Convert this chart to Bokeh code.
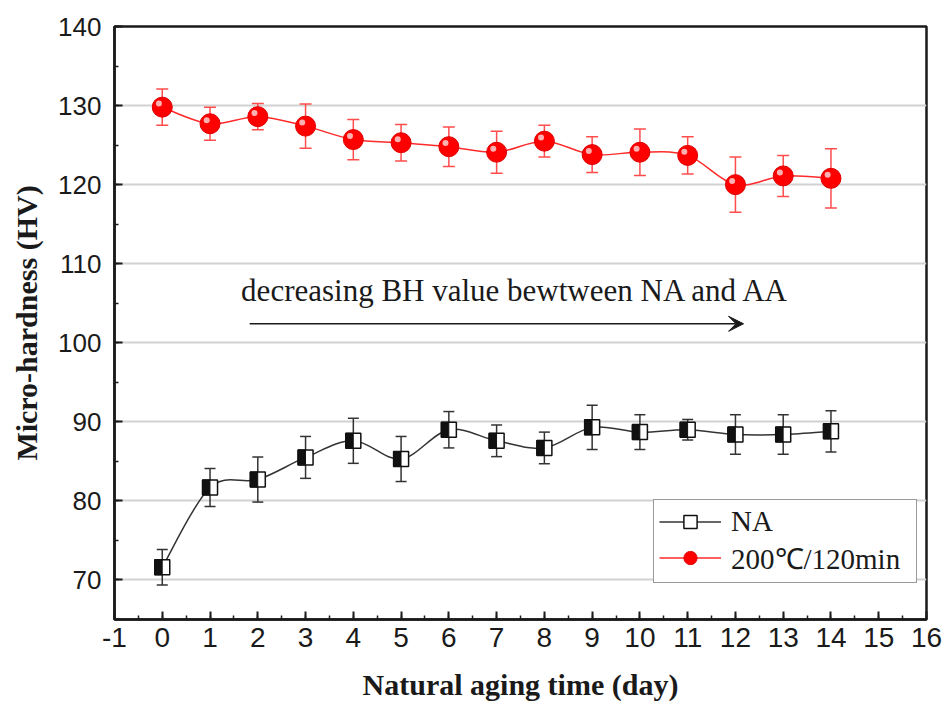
import numpy as np
from bokeh.plotting import figure
from bokeh.models import (ColumnDataSource, Whisker, TeeHead, Arrow, VeeHead, Legend,
                          LegendItem, SingleIntervalTicker, Label, Range1d, PrintfTickFormatter)
from bokeh.transform import dodge
from bokeh.embed import file_html
from bokeh.resources import INLINE

# ---------------- data ----------------
days = list(range(15))
na_hv = [71.6, 81.7, 82.7, 85.5, 87.6, 85.3, 89.0, 87.6, 86.7, 89.3, 88.7, 89.0, 88.4, 88.4, 88.8]
na_err = [2.25, 2.4, 2.85, 2.65, 2.85, 2.85, 2.3, 2.0, 2.0, 2.8, 2.2, 1.3, 2.5, 2.5, 2.6]
aa_hv = [129.8, 127.7, 128.6, 127.4, 125.7, 125.3, 124.8, 124.1, 125.5, 123.8, 124.1, 123.7, 120.0, 121.1, 120.8]
aa_err = [2.3, 2.1, 1.65, 2.8, 2.55, 2.3, 2.5, 2.65, 2.0, 2.25, 2.95, 2.35, 3.5, 2.6, 3.75]
series_labels = ["NA", "200\u2103/120min"]
annotation_text = "decreasing BH value bewtween NA and AA"
x_title = "Natural aging time (day)"
y_title = "Micro-hardness (HV)"

# annotation placement (data units)
ARROW_X0, ARROW_X1, ARROW_Y = 1.83, 12.17, 102.4
TEXT_X, TEXT_Y = 7.4, 106.6


def spline(xs, ys):
    """Catmull-Rom segments as cubic bezier control points (drawing only)."""
    x = np.asarray(xs, float)
    y = np.asarray(ys, float)
    xp = np.concatenate([[x[0]], x, [x[-1]]])
    yp = np.concatenate([[y[0]], y, [y[-1]]])
    return dict(
        x0=x[:-1], y0=y[:-1], x1=x[1:], y1=y[1:],
        cx0=x[:-1] + (xp[2:-1] - xp[:-3]) / 6, cy0=y[:-1] + (yp[2:-1] - yp[:-3]) / 6,
        cx1=x[1:] - (xp[3:] - xp[1:-2]) / 6, cy1=y[1:] - (yp[3:] - yp[1:-2]) / 6,
    )


na_src = ColumnDataSource(dict(x=days, y=na_hv,
                               upper=[v + e for v, e in zip(na_hv, na_err)],
                               lower=[v - e for v, e in zip(na_hv, na_err)]))
aa_src = ColumnDataSource(dict(x=days, y=aa_hv,
                               upper=[v + e for v, e in zip(aa_hv, aa_err)],
                               lower=[v - e for v, e in zip(aa_hv, aa_err)]))

p = figure(width=947, height=709, output_backend="svg", toolbar_location=None,
           x_range=Range1d(-1, 16), y_range=Range1d(65, 140),
           min_border_left=114, min_border_right=21, min_border_top=26, min_border_bottom=90)
p.background_fill_color = "white"
p.border_fill_color = "white"
p.outline_line_color = "#1a1a1a"
p.outline_line_width = 2.5

# grid
p.xgrid.visible = False
p.ygrid.grid_line_color = "#d2d2d2"
p.ygrid.grid_line_width = 2

# axes
p.xaxis.ticker = SingleIntervalTicker(interval=1, num_minor_ticks=2)
p.yaxis.ticker = SingleIntervalTicker(interval=10, num_minor_ticks=2)
p.xaxis.formatter = PrintfTickFormatter(format="%d")
for ax in (p.xaxis[0], p.yaxis[0]):
    ax.axis_line_width = 2.5
    ax.axis_line_color = "#1a1a1a"
    ax.major_tick_in = 8
    ax.major_tick_out = 0
    ax.minor_tick_in = 4
    ax.minor_tick_out = 0
    ax.major_tick_line_width = 2
    ax.minor_tick_line_width = 1.5
    ax.major_tick_line_color = "#1a1a1a"
    ax.minor_tick_line_color = "#1a1a1a"
    ax.major_label_text_color = "#1a1a1a"
    ax.axis_label_text_font = "Liberation Serif"
    ax.axis_label_text_font_style = "bold"
    ax.axis_label_text_font_size = "30px"
    ax.axis_label_text_color = "#1a1a1a"

p.xaxis.axis_label = x_title
p.yaxis.axis_label = y_title
p.xaxis.major_label_text_font = "Liberation Sans"
p.xaxis.major_label_text_font_size = "28px"
p.xaxis.major_label_standoff = 8
p.xaxis.axis_label_standoff = 18
p.yaxis.major_label_text_font = "Liberation Sans"
p.yaxis.major_label_text_font_size = "26px"
p.yaxis.major_label_standoff = 13
p.yaxis.axis_label_standoff = 12

# ---------------- NA series ----------------
na_line = p.bezier(source=ColumnDataSource(spline(days, na_hv)), x0="x0", y0="y0", x1="x1", y1="y1",
                   cx0="cx0", cy0="cy0", cx1="cx1", cy1="cy1", line_color="#333333", line_width=1.5)
p.add_layout(Whisker(source=na_src, base="x", upper="upper", lower="lower",
                     line_color="#333333", line_width=1.5,
                     upper_head=TeeHead(size=11, line_color="#333333", line_width=1.5),
                     lower_head=TeeHead(size=11, line_color="#333333", line_width=1.5)))
na_sq = p.scatter("x", "y", source=na_src, marker="square", size=15,
                  fill_color="white", line_color="#111111", line_width=1.5)
p.rect(x=dodge("x", -0.08, range=p.x_range), y="y", source=na_src, width=7.5, height=15,
       width_units="screen", height_units="screen", fill_color="#111111", line_color="#111111")

# ---------------- 200C/120min series ----------------
aa_line = p.bezier(source=ColumnDataSource(spline(days, aa_hv)), x0="x0", y0="y0", x1="x1", y1="y1",
                   cx0="cx0", cy0="cy0", cx1="cx1", cy1="cy1", line_color="#ff2a2a", line_width=1.5)
p.add_layout(Whisker(source=aa_src, base="x", upper="upper", lower="lower",
                     line_color="#ff4d4d", line_width=1.5,
                     upper_head=TeeHead(size=12, line_color="#ff4d4d", line_width=1.5),
                     lower_head=TeeHead(size=12, line_color="#ff4d4d", line_width=1.5)))
aa_dot = p.scatter("x", "y", source=aa_src, marker="circle", size=20,
                   fill_color="#ff0000", line_color="#e00000", line_width=1)
p.scatter(x=dodge("x", -0.07, range=p.x_range), y=dodge("y", 0.45, range=p.y_range),
          source=aa_src, marker="circle", size=6, fill_color="#ffc4c4",
          line_color=None, fill_alpha=0.9)

# ---------------- annotation ----------------
p.add_layout(Arrow(x_start=ARROW_X0, y_start=ARROW_Y, x_end=ARROW_X1, y_end=ARROW_Y,
                   line_color="#1a1a1a", line_width=1.5,
                   end=VeeHead(size=15, fill_color="#1a1a1a", line_color="#1a1a1a")))
p.add_layout(Label(x=TEXT_X, y=TEXT_Y, text=annotation_text, text_align="center",
                   text_baseline="middle", text_font="Liberation Serif",
                   text_font_size="31px", text_color="#1a1a1a"))

# ---------------- legend ----------------
legend = Legend(items=[LegendItem(label=series_labels[0], renderers=[na_line, na_sq]),
                       LegendItem(label=series_labels[1], renderers=[aa_line, aa_dot])],
                location=(539, 36), orientation="vertical",
                glyph_width=62, glyph_height=33, label_standoff=10, label_width=180,
                spacing=0, padding=5, margin=0,
                label_text_font="Liberation Serif", label_text_font_size="29px",
                label_text_line_height=1.0,
                label_text_color="#1a1a1a", border_line_color="#333333", border_line_width=1.5,
                background_fill_color="white", background_fill_alpha=1)
p.add_layout(legend, "center")

open("out.html", "w").write(file_html(p, INLINE))
